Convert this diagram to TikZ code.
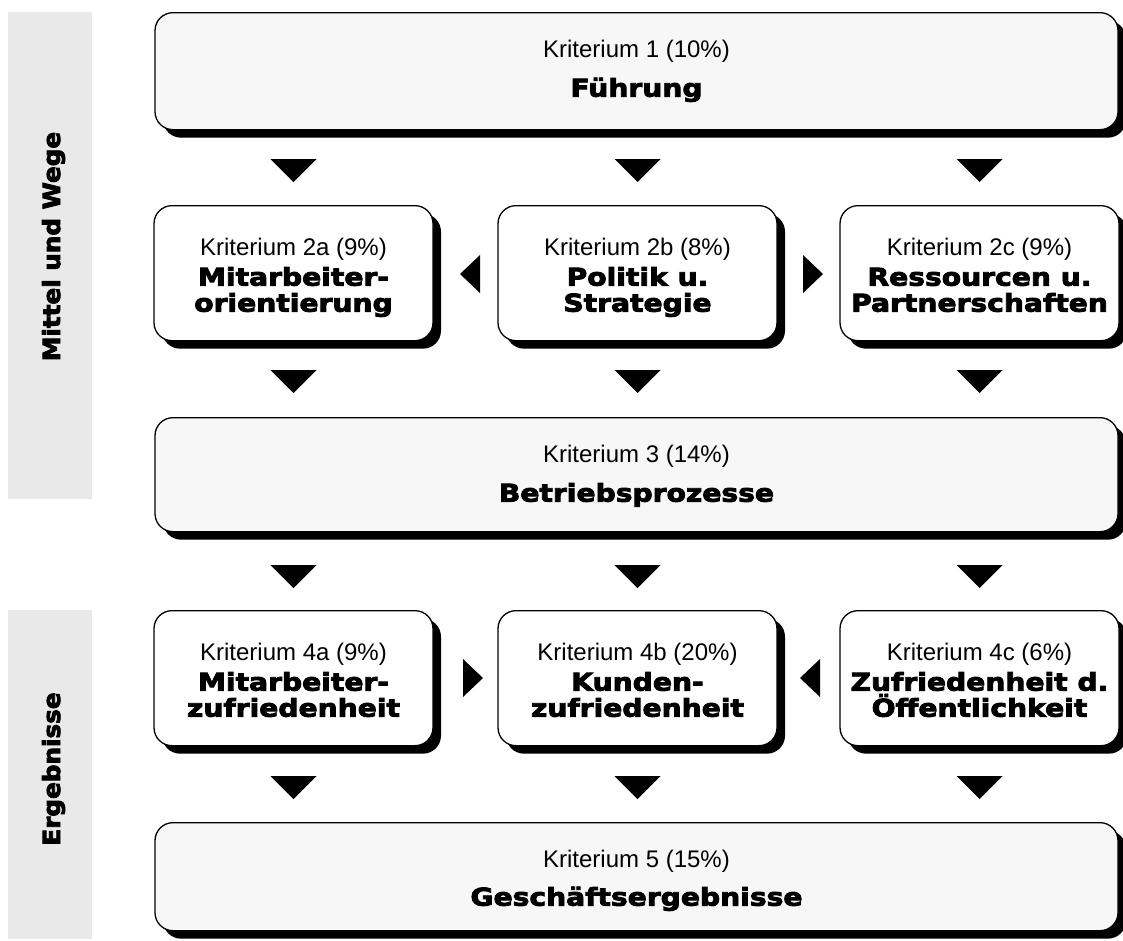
\documentclass[tikz,border=0pt]{standalone}
\usepackage{fontspec}
\setmainfont{Liberation Sans}
\newfontfamily\critfam{Liberation Sans}
\newfontfamily\heavyfam{DejaVu Sans}[FakeStretch=1.15,BoldFeatures={FakeBold=3.5}]
\newfontfamily\sidefam{DejaVu Sans}[FakeStretch=1.05,BoldFeatures={FakeBold=3.5}]
\usetikzlibrary{shadows,calc}
\definecolor{sidegray}{RGB}{233,233,233}
\definecolor{bigfill}{RGB}{247,247,247}
\newcommand{\fixcenter}{\leftskip=0pt plus 1fil\rightskip=0pt plus 1fil\parfillskip=0pt\spaceskip=0pt\xspaceskip=0pt\relax}
\newcommand{\critf}{\critfam\fontsize{24}{26}\selectfont\fixcenter}
\newcommand{\heavyf}{\heavyfam\bfseries\fontsize{24.5}{26}\selectfont\fixcenter}
\newcommand{\sidef}{\sidefam\bfseries\fontsize{23.5}{26}\selectfont}
\tikzset{
  box/.style={draw=black, line width=1.3pt, rounded corners=18pt, fill=white,
    inner sep=0pt, anchor=north, align=center,
    drop shadow={fill=black, opacity=1, shadow xshift=8pt, shadow yshift=-8pt}},
  smallbox/.style={box, text width=279pt, text height=50pt, text depth=85pt},
  bigbox/.style={box, fill=bigfill, text width=963pt, text height=45pt},
  sidebar/.style={fill=sidegray, draw=none},
  sidelabel/.style={rotate=90, anchor=base, font=\sidef},
  downtri/.pic={\fill[black] (-23,-11.5) -- (23,-11.5) -- (0,11.5) -- cycle;},
  lefttri/.pic={\fill[black] (10,-19) -- (10,19) -- (-10,0) -- cycle;},
  righttri/.pic={\fill[black] (-10,-19) -- (-10,19) -- (10,0) -- cycle;},
}
\begin{document}
\begin{tikzpicture}[x=1pt,y=-1pt]
\useasboundingbox (0,0) rectangle (1123,940);
% side bars
\fill[sidebar] (8,12) rectangle (92,499);
\fill[sidebar] (8,610) rectangle (92,939);
\node[sidelabel] (lmw) at (60,246.5) {Mittel und Wege};
\node[sidelabel] (lerg) at (60,769) {Ergebnisse};
% boxes
\node[bigbox, text depth=72pt] (k1) at (636.5,12)
  {{\critf Kriterium 1 (10\%)\par}\vspace{13pt}{\heavyf Führung\par}};
\node[smallbox] (k2a) at (293.5,205)
  {{\critf Kriterium 2a (9\%)\par}\vspace{4pt}{\heavyf Mitarbeiter-\\orientierung\par}};
\node[smallbox] (k2b) at (637.5,205)
  {{\critf Kriterium 2b (8\%)\par}\vspace{4pt}{\heavyf Politik u.\\Strategie\par}};
\node[smallbox] (k2c) at (979.5,205)
  {{\critf Kriterium 2c (9\%)\par}\vspace{4pt}{\heavyf Ressourcen u.\\Partnerschaften\par}};
\node[bigbox, text depth=69pt] (k3) at (636.5,417)
  {{\critf Kriterium 3 (14\%)\par}\vspace{13pt}{\heavyf Betriebsprozesse\par}};
\node[smallbox] (k4a) at (293.5,610)
  {{\critf Kriterium 4a (9\%)\par}\vspace{4pt}{\heavyf Mitarbeiter-\\zufriedenheit\par}};
\node[smallbox] (k4b) at (637.5,610)
  {{\critf Kriterium 4b (20\%)\par}\vspace{4pt}{\heavyf Kunden-\\zufriedenheit\par}};
\node[smallbox] (k4c) at (979.5,610)
  {{\critf Kriterium 4c (6\%)\par}\vspace{4pt}{\heavyf Zufriedenheit d.\\Öffentlichkeit\par}};
\node[bigbox, text depth=63pt] (k5) at (636.5,822)
  {{\critf Kriterium 5 (15\%)\par}\vspace{12pt}{\heavyf Geschäftsergebnisse\par}};
% arrow triangles
\foreach \y in {170.5,381.5,576.5,787.5}{
  \foreach \x in {293.5,637.5,979.5}{
    \pic at (\x,\y) {downtri};
  }
}
\pic at (470,274) {lefttri};
\pic at (813,274) {righttri};
\pic at (473,678) {righttri};
\pic at (810,678) {lefttri};
\end{tikzpicture}
\end{document}
